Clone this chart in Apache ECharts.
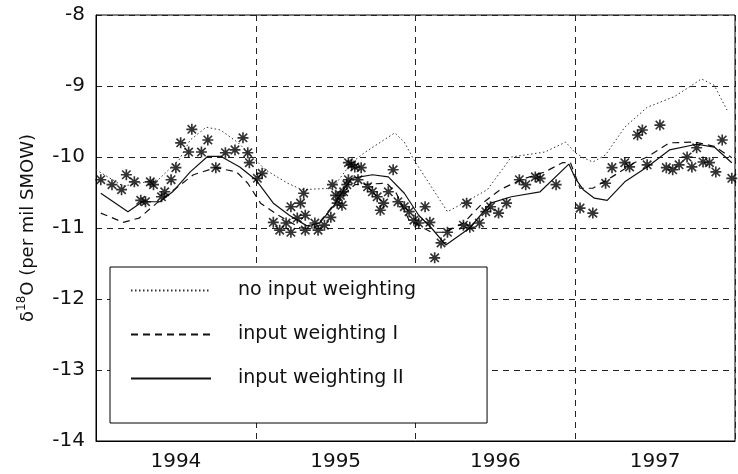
<!DOCTYPE html>
<html><head><meta charset="utf-8">
<script src="https://cdn.jsdelivr.net/npm/echarts@6/dist/echarts.min.js"></script>
<style>html,body{margin:0;padding:0;background:#fff}#c{width:738px;height:474px}</style>
</head><body><div id="c"></div>
<script>
// ---- data ----
const yearLabels = ['1994', '1995', '1996', '1997'];
const seriesNames = ['no input weighting', 'input weighting I', 'input weighting II'];

const observed = [
  [1994.03,-10.32],[1994.10,-10.39],[1994.16,-10.46],[1994.19,-10.25],[1994.24,-10.35],[1994.28,-10.61],
  [1994.31,-10.63],[1994.34,-10.35],[1994.36,-10.39],[1994.41,-10.56],[1994.43,-10.49],[1994.47,-10.32],
  [1994.50,-10.15],[1994.53,-9.80],[1994.58,-9.93],[1994.60,-9.61],[1994.66,-9.93],[1994.70,-9.76],
  [1994.75,-10.15],[1994.81,-9.94],[1994.87,-9.90],[1994.92,-9.73],[1994.95,-9.94],[1994.96,-10.08],
  [1995.01,-10.30],[1995.04,-10.23],
  [1995.11,-10.92],[1995.15,-11.03],[1995.19,-10.93],[1995.22,-11.06],[1995.22,-10.70],[1995.26,-10.86],
  [1995.28,-10.65],[1995.30,-10.51],[1995.31,-10.82],[1995.31,-11.03],[1995.37,-10.93],[1995.39,-11.03],
  [1995.43,-10.96],[1995.47,-10.85],[1995.48,-10.39],[1995.50,-10.54],[1995.51,-10.65],[1995.53,-10.54],
  [1995.54,-10.68],[1995.55,-10.49],[1995.57,-10.39],[1995.58,-10.08],[1995.58,-10.32],[1995.60,-10.11],
  [1995.62,-10.14],[1995.64,-10.32],[1995.66,-10.15],[1995.70,-10.42],[1995.73,-10.49],[1995.76,-10.56],
  [1995.78,-10.75],[1995.80,-10.65],[1995.83,-10.49],[1995.86,-10.18],[1995.89,-10.63],[1995.93,-10.70],
  [1995.96,-10.77],[1995.99,-10.89],
  [1996.02,-10.93],[1996.06,-10.70],[1996.09,-10.92],[1996.12,-11.42],[1996.16,-11.21],[1996.20,-11.06],
  [1996.30,-10.96],[1996.32,-10.65],[1996.34,-10.99],[1996.40,-10.93],[1996.44,-10.77],[1996.47,-10.70],
  [1996.52,-10.79],[1996.57,-10.65],[1996.65,-10.32],[1996.69,-10.39],[1996.75,-10.28],[1996.78,-10.30],
  [1996.88,-10.39],
  [1997.03,-10.72],[1997.11,-10.79],[1997.19,-10.37],[1997.23,-10.15],[1997.31,-10.08],[1997.34,-10.14],
  [1997.39,-9.69],[1997.42,-9.62],[1997.45,-10.11],[1997.53,-9.55],[1997.57,-10.15],[1997.61,-10.18],
  [1997.65,-10.11],[1997.70,-10.00],[1997.73,-10.14],[1997.76,-9.87],[1997.80,-10.07],[1997.84,-10.08],
  [1997.88,-10.21],[1997.92,-9.76],[1997.98,-10.30]
];

const noWeighting = [
  [1994.00,-10.18],[1994.17,-10.41],[1994.39,-10.32],[1994.52,-10.04],[1994.59,-9.76],[1994.69,-9.58],
  [1994.78,-9.62],[1994.89,-9.80],[1994.98,-10.00],[1995.06,-10.18],[1995.20,-10.37],[1995.29,-10.46],
  [1995.48,-10.44],[1995.60,-10.08],[1995.68,-9.94],[1995.87,-9.66],[1995.93,-9.79],[1995.99,-10.04],
  [1996.20,-10.77],[1996.30,-10.65],[1996.45,-10.46],[1996.60,-10.00],[1996.69,-9.97],[1996.81,-9.93],
  [1996.94,-9.79],[1997.00,-9.94],[1997.05,-10.01],[1997.11,-10.07],[1997.19,-9.97],[1997.31,-9.58],
  [1997.45,-9.30],[1997.62,-9.15],[1997.75,-8.96],[1997.79,-8.90],[1997.87,-8.99],[1997.95,-9.34]
];

const weightingI = [
  [1994.03,-10.79],[1994.17,-10.92],[1994.27,-10.86],[1994.38,-10.65],[1994.50,-10.44],[1994.61,-10.25],
  [1994.75,-10.15],[1994.88,-10.21],[1994.95,-10.37],[1995.03,-10.65],[1995.14,-10.82],[1995.28,-11.00],
  [1995.37,-11.00],[1995.51,-10.61],[1995.62,-10.39],[1995.82,-10.37],[1995.88,-10.51],[1995.96,-10.89],
  [1996.10,-11.06],[1996.18,-11.06],[1996.30,-10.93],[1996.42,-10.65],[1996.53,-10.46],[1996.66,-10.32],
  [1996.81,-10.21],[1996.92,-10.08],[1996.97,-10.08],[1997.03,-10.44],[1997.11,-10.44],[1997.23,-10.28],
  [1997.37,-10.08],[1997.45,-10.00],[1997.59,-9.80],[1997.75,-9.79],[1997.87,-9.85],[1997.98,-10.01]
];

const weightingII = [
  [1994.03,-10.51],[1994.20,-10.77],[1994.29,-10.63],[1994.40,-10.63],[1994.48,-10.49],[1994.59,-10.21],
  [1994.70,-9.99],[1994.78,-9.99],[1994.90,-10.14],[1995.00,-10.32],[1995.11,-10.65],[1995.21,-10.82],
  [1995.32,-10.97],[1995.40,-10.93],[1995.49,-10.68],[1995.55,-10.46],[1995.60,-10.30],[1995.73,-10.25],
  [1995.83,-10.28],[1995.93,-10.51],[1996.02,-10.82],[1996.10,-11.00],[1996.19,-11.24],[1996.34,-11.00],
  [1996.47,-10.65],[1996.60,-10.56],[1996.78,-10.49],[1996.96,-10.10],[1997.00,-10.30],[1997.05,-10.46],
  [1997.12,-10.58],[1997.20,-10.61],[1997.31,-10.35],[1997.45,-10.14],[1997.59,-9.90],[1997.76,-9.82],
  [1997.87,-9.86],[1997.98,-10.08]
];

// ---- chart ----
const FONT = 'DejaVu Sans';
const star = 'path://M8.5 0L11.5 0L11.5 20L8.5 20Z M0 8.5L20 8.5L20 11.5L0 11.5Z M3.4 1.3L18.7 16.6L16.6 18.7L1.3 3.4Z M16.6 1.3L18.7 3.4L3.4 18.7L1.3 16.6Z M6 6L14 6L14 14L6 14Z';
const gridLine = {show: true, lineStyle: {color: '#222', width: 1, type: [6, 5]}};

const chart = echarts.init(document.getElementById('c'), null, {renderer: 'canvas'});
chart.setOption({
  animation: false,
  backgroundColor: '#fff',
  grid: {left: 96, top: 15, width: 644, height: 426, show: true, borderColor: '#000', borderWidth: 1, backgroundColor: 'transparent'},
  xAxis: [
    {type: 'value', min: 1994, max: 1998, interval: 1, position: 'bottom',
     axisLine: {show: true, onZero: false, lineStyle: {color: '#000', width: 1}},
     axisTick: {show: false}, axisLabel: {show: false}, splitLine: gridLine},
    {type: 'value', min: 1994, max: 1998, interval: 0.5, position: 'bottom',
     axisLine: {show: false}, axisTick: {show: false}, splitLine: {show: false},
     axisLabel: {show: true, margin: 11, color: '#111', fontFamily: FONT, fontSize: 20,
       formatter: v => { const i = Math.round(v - 1994.5); return (Math.abs(v - 1994.5 - i) < 1e-6 && i >= 0 && i < yearLabels.length) ? yearLabels[i] : ''; }}}
  ],
  yAxis: {type: 'value', min: -14, max: -8, interval: 1,
    axisLine: {show: true, onZero: false, lineStyle: {color: '#000', width: 1}},
    axisTick: {show: false},
    axisLabel: {margin: 11, color: '#111', fontFamily: FONT, fontSize: 20},
    splitLine: gridLine,
    name: '{d|δ}{s|18}{d|O (per mil SMOW)}', nameLocation: 'middle', nameGap: 56, nameRotate: 90,
    nameTextStyle: {color: '#111', fontFamily: FONT, fontSize: 18,
      rich: {d: {fontFamily: FONT, fontSize: 18, lineHeight: 24, color: '#111'},
             s: {fontFamily: FONT, fontSize: 12, lineHeight: 24, verticalAlign: 'top', color: '#111'}}}
  },
  legend: {
    data: seriesNames, orient: 'vertical', left: 110, top: 267,
    itemWidth: 80, itemHeight: 16, itemGap: 25,
    padding: [14, 71, 35, 20],
    backgroundColor: '#fff', borderColor: '#000', borderWidth: 1,
    itemStyle: {opacity: 0, borderWidth: 0},
    textStyle: {fontFamily: FONT, fontSize: 19, color: '#111', padding: [0, 0, 0, 22]},
    selectedMode: false
  },
  series: [
    {name: 'observed', type: 'scatter', data: observed, symbol: star, symbolSize: 11,
     itemStyle: {color: '#000'}, z: 3},
    {name: seriesNames[0], type: 'line', data: noWeighting, symbol: 'none', z: 2,
     lineStyle: {color: '#333', width: 1, type: [1.5, 2.5]}, itemStyle: {color: '#333'}},
    {name: seriesNames[1], type: 'line', data: weightingI, symbol: 'none', z: 2,
     lineStyle: {color: '#111', width: 1.2, type: [7, 5]}, itemStyle: {color: '#111'}},
    {name: seriesNames[2], type: 'line', data: weightingII, symbol: 'none', z: 2,
     lineStyle: {color: '#111', width: 1.2, type: 'solid'}, itemStyle: {color: '#111'}}
  ]
});
</script>
</body></html>
